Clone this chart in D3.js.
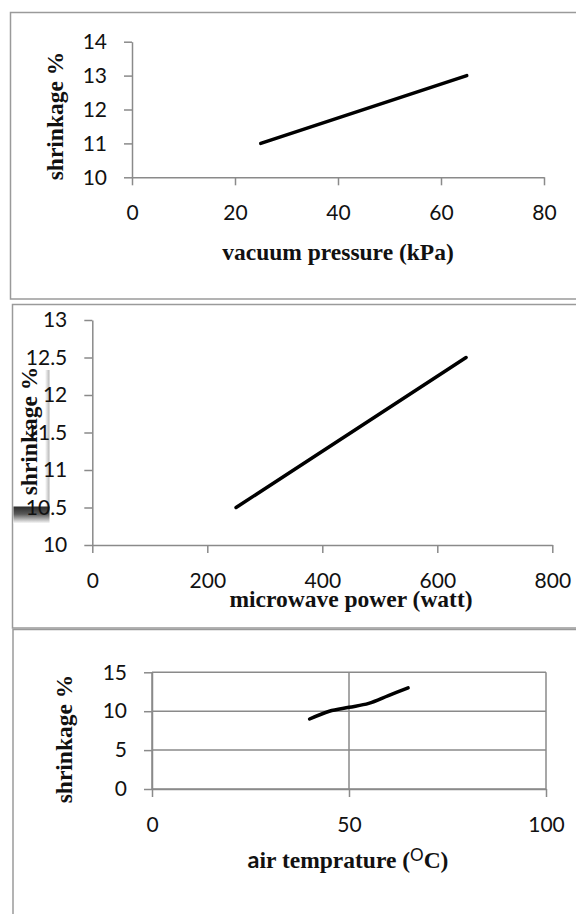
<!DOCTYPE html>
<html>
<head>
<meta charset="utf-8">
<script src="https://cdn.jsdelivr.net/npm/d3@7"></script>
<style>
  body { margin: 0; background: #fff; }
  svg { display: block; }
  .tick text { font-family: Lato, "Open Sans", sans-serif; font-size: 21px; fill: #111; }
  .ttl { font-family: "Liberation Serif", "Times New Roman", serif; font-weight: bold; font-size: 23.5px; fill: #111; }
</style>
</head>
<body>
<svg id="chart" width="576" height="914"></svg>
<script>
// panel 1 - vacuum pressure
var vacuumKPa = [25, 65];
var vacuumShrink = [11, 13];
var vacuumTicksX = [0, 20, 40, 60, 80];
var vacuumTicksY = [10, 11, 12, 13, 14];

// panel 2 - microwave power
var microwaveW = [250, 650];
var microwaveShrink = [10.5, 12.5];
var microTicksX = [0, 200, 400, 600, 800];
var microTicksY = [10, 10.5, 11, 11.5, 12, 12.5, 13];

// panel 3 - air temperature
var airTemp = [40, 45, 50, 55, 60, 65];
var airShrink = [9, 10, 10.5, 11, 12, 13];
var airTicksX = [0, 50, 100];
var airTicksY = [0, 5, 10, 15];

var axisColor = "#8a8a8a";
var svg = d3.select("#chart");

// panel frames
svg.append("path")
    .attr("d", "M590,12.5 H10.5 V299 H590")
    .attr("fill", "none").attr("stroke", "#9a9a9a").attr("stroke-width", 1.5);
svg.append("path")
    .attr("d", "M590,304.5 H12.5 V628 H590")
    .attr("fill", "none").attr("stroke", "#9a9a9a").attr("stroke-width", 1.5);
svg.append("path")
    .attr("d", "M590,629.5 H13 V920")
    .attr("fill", "none").attr("stroke", "#9a9a9a").attr("stroke-width", 1.5);

function drawPanel(opt) {
  var x = d3.scaleLinear().domain(opt.xDomain).range(opt.xRange);
  var y = d3.scaleLinear().domain(opt.yDomain).range(opt.yRange);
  var g = svg.append("g");

  if (opt.grid) {
    g.append("g").selectAll("line").data(opt.ticksY).enter().append("line")
        .attr("x1", opt.xRange[0]).attr("x2", opt.xRange[1])
        .attr("y1", function(d) { return y(d); }).attr("y2", function(d) { return y(d); })
        .attr("stroke", axisColor).attr("stroke-width", 1.5);
    g.append("g").selectAll("line").data(opt.ticksX).enter().append("line")
        .attr("x1", function(d) { return x(d); }).attr("x2", function(d) { return x(d); })
        .attr("y1", opt.yRange[0]).attr("y2", opt.yRange[1])
        .attr("stroke", axisColor).attr("stroke-width", 1.5);
  }

  var xAxis = d3.axisBottom(x).tickValues(opt.ticksX).tickSize(8).tickSizeOuter(0)
      .tickPadding(20).tickFormat(d3.format("d"));
  var yAxis = d3.axisLeft(y).tickValues(opt.ticksY).tickSize(8).tickSizeOuter(0)
      .tickPadding(17).tickFormat(function(d) { return String(d); });

  var gx = g.append("g")
      .attr("transform", "translate(0," + opt.yRange[0] + ")")
      .call(xAxis);
  var gy = g.append("g")
      .attr("transform", "translate(" + opt.xRange[0] + ",0)")
      .call(yAxis);
  [gx, gy].forEach(function(a) {
    a.select(".domain").attr("stroke", axisColor).attr("stroke-width", 1.5);
    a.selectAll(".tick line").attr("stroke", axisColor).attr("stroke-width", 1.5);
  });

  var pts = opt.xs.map(function(d, i) { return [d, opt.ys[i]]; });
  var line = d3.line()
      .x(function(d) { return x(d[0]); })
      .y(function(d) { return y(d[1]); })
      .curve(opt.smooth ? d3.curveCatmullRom.alpha(0) : d3.curveLinear);
  g.append("path")
      .datum(pts)
      .attr("d", line)
      .attr("fill", "none")
      .attr("stroke", "#000")
      .attr("stroke-width", 3.5)
      .attr("stroke-linecap", "round")
      .attr("stroke-linejoin", "round");

  g.append("text")
      .attr("class", "ttl")
      .attr("transform", "translate(" + opt.yTitle[0] + "," + opt.yTitle[1] + ") rotate(-90)")
      .attr("text-anchor", "middle")
      .text("shrinkage %");

  return g;
}

drawPanel({
  xDomain: [0, 80], xRange: [132, 544],
  yDomain: [10, 14], yRange: [177.3, 41.7],
  ticksX: vacuumTicksX, ticksY: vacuumTicksY,
  xs: vacuumKPa, ys: vacuumShrink,
  yTitle: [63, 116]
});
svg.append("text").attr("class", "ttl")
    .attr("x", 338).attr("y", 260).attr("text-anchor", "middle")
    .text("vacuum pressure (kPa)");

// odd text-box leftover sitting on the second y title
var defs = svg.append("defs");
var grad = defs.append("linearGradient").attr("id", "shade")
    .attr("x1", 0).attr("y1", 0).attr("x2", 0).attr("y2", 1);
grad.append("stop").attr("offset", "0%").attr("stop-color", "#2a2a2a");
grad.append("stop").attr("offset", "45%").attr("stop-color", "#5a5a5a");
grad.append("stop").attr("offset", "100%").attr("stop-color", "#ffffff");
var gradV = defs.append("linearGradient").attr("id", "shadeV")
    .attr("x1", 0).attr("y1", 0).attr("x2", 1).attr("y2", 0);
gradV.append("stop").attr("offset", "0%").attr("stop-color", "#ffffff");
gradV.append("stop").attr("offset", "100%").attr("stop-color", "#b5b5b5");
svg.append("rect").attr("x", 45).attr("y", 370).attr("width", 4.5).attr("height", 138)
    .attr("fill", "url(#shadeV)");
svg.append("rect").attr("x", 13.5).attr("y", 506.5).attr("width", 36).attr("height", 17)
    .attr("fill", "url(#shade)");

drawPanel({
  xDomain: [0, 800], xRange: [92.3, 552.3],
  yDomain: [10, 13], yRange: [545, 320],
  ticksX: microTicksX, ticksY: microTicksY,
  xs: microwaveW, ys: microwaveShrink,
  yTitle: [37, 431]
});
svg.append("text").attr("class", "ttl")
    .attr("x", 351).attr("y", 606.5).attr("text-anchor", "middle")
    .text("microwave power (watt)");

drawPanel({
  xDomain: [0, 100], xRange: [152, 546],
  yDomain: [0, 15], yRange: [789, 672.3],
  ticksX: airTicksX, ticksY: airTicksY,
  xs: airTemp, ys: airShrink,
  yTitle: [72, 739],
  grid: true, smooth: true
});
var air = svg.append("text").attr("class", "ttl")
    .attr("x", 348).attr("y", 868.3).attr("text-anchor", "middle");
air.append("tspan").style("font-family", "Lato, sans-serif").text("a");
air.append("tspan").text("ir temprature (");
air.append("tspan").style("font-family", "Lato, sans-serif").style("font-weight", "normal")
    .style("font-size", "17px").attr("dy", -7.6).text("O");
air.append("tspan").attr("dy", 7.6).text("C)");
</script>
</body>
</html>
